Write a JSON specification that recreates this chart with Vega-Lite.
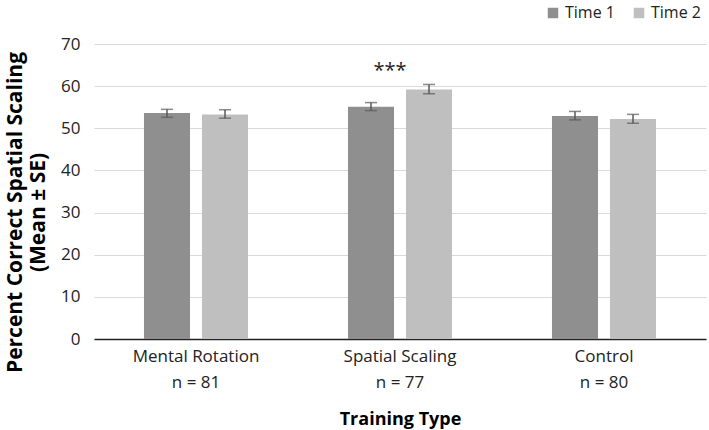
{
  "$schema": "https://vega.github.io/schema/vega-lite/v6.json",
  "width": 612,
  "height": 295,
  "autosize": {"type": "none"},
  "padding": {"left": 94, "top": 44, "right": 3, "bottom": 91},
  "background": "white",
  "config": {
    "font": "Open Sans",
    "view": {"stroke": null}
  },
  "datasets": {
    "bars": [
      {"group": "Mental Rotation|n = 81", "time": "Time 1", "mean": 53.6, "lo": 52.6, "hi": 54.5},
      {"group": "Mental Rotation|n = 81", "time": "Time 2", "mean": 53.3, "lo": 52.4, "hi": 54.4},
      {"group": "Spatial Scaling|n = 77", "time": "Time 1", "mean": 55.1, "lo": 54.2, "hi": 56.1},
      {"group": "Spatial Scaling|n = 77", "time": "Time 2", "mean": 59.2, "lo": 58.2, "hi": 60.4},
      {"group": "Control|n = 80", "time": "Time 1", "mean": 52.9, "lo": 52.0, "hi": 54.0},
      {"group": "Control|n = 80", "time": "Time 2", "mean": 52.2, "lo": 51.2, "hi": 53.3}
    ],
    "notes": [
      {"group": "Spatial Scaling|n = 77", "y": 63.5, "label": "***"}
    ]
  },
  "layer": [
    {
      "data": {"name": "bars"},
      "mark": {"type": "bar"},
      "encoding": {
        "x": {
          "field": "group", "type": "nominal", "sort": null,
          "scale": {"paddingInner": 0.49, "paddingOuter": 0.245},
          "axis": {
            "title": "Training Type",
            "titleFontSize": 18, "titleFontWeight": "bold", "titleColor": "black",
            "titlePadding": 20,
            "labelExpr": "split(datum.value, '|')",
            "labelAngle": 0, "labelFontSize": 17, "labelColor": "#222222",
            "labelLineHeight": 26, "labelPadding": 9,
            "ticks": false, "domainColor": "#222222", "domainWidth": 1.5
          }
        },
        "xOffset": {
          "field": "time", "type": "nominal",
          "scale": {"paddingInner": 0.207, "paddingOuter": 0}
        },
        "y": {
          "field": "mean", "type": "quantitative",
          "scale": {"domain": [0, 70]},
          "axis": {
            "values": [0, 10, 20, 30, 40, 50, 60, 70],
            "title": ["Percent Correct Spatial Scaling", "(Mean ± SE)"],
            "titleFontSize": 21, "titleFontWeight": "bold", "titleColor": "black",
            "titleLineHeight": 23,
            "titlePadding": 12,
            "titleY": 168,
            "labelFontSize": 17, "labelColor": "#222222", "labelPadding": 14,
            "ticks": false, "domain": false,
            "gridColor": "#d9d9d9", "gridWidth": 1.2
          }
        },
        "color": {
          "field": "time", "type": "nominal",
          "scale": {"range": ["#8f8f8f", "#bfbfbf"]},
          "legend": {
            "title": null, "orient": "none", "direction": "horizontal",
            "legendX": 451, "legendY": -39,
            "symbolType": "square", "symbolSize": 110, "symbolStrokeWidth": 0,
            "labelFontSize": 16, "labelColor": "#222222", "columnPadding": 16
          }
        }
      }
    },
    {
      "data": {"name": "bars"},
      "mark": {"type": "rule", "color": "#595959", "strokeWidth": 1.5},
      "encoding": {
        "x": {"field": "group", "type": "nominal", "sort": null},
        "xOffset": {"field": "time", "type": "nominal"},
        "y": {"field": "lo", "type": "quantitative"},
        "y2": {"field": "hi"}
      }
    },
    {
      "data": {"name": "bars"},
      "mark": {"type": "tick", "color": "#595959", "thickness": 1.5, "size": 12, "orient": "horizontal"},
      "encoding": {
        "x": {"field": "group", "type": "nominal", "sort": null},
        "xOffset": {"field": "time", "type": "nominal"},
        "y": {"field": "lo", "type": "quantitative"}
      }
    },
    {
      "data": {"name": "bars"},
      "mark": {"type": "tick", "color": "#595959", "thickness": 1.5, "size": 12, "orient": "horizontal"},
      "encoding": {
        "x": {"field": "group", "type": "nominal", "sort": null},
        "xOffset": {"field": "time", "type": "nominal"},
        "y": {"field": "hi", "type": "quantitative"}
      }
    },
    {
      "data": {"name": "notes"},
      "mark": {"type": "text", "fontSize": 20, "color": "#222222", "dx": -10, "baseline": "middle"},
      "encoding": {
        "x": {"field": "group", "type": "nominal", "sort": null},
        "y": {"field": "y", "type": "quantitative"},
        "text": {"field": "label"}
      }
    }
  ]
}
